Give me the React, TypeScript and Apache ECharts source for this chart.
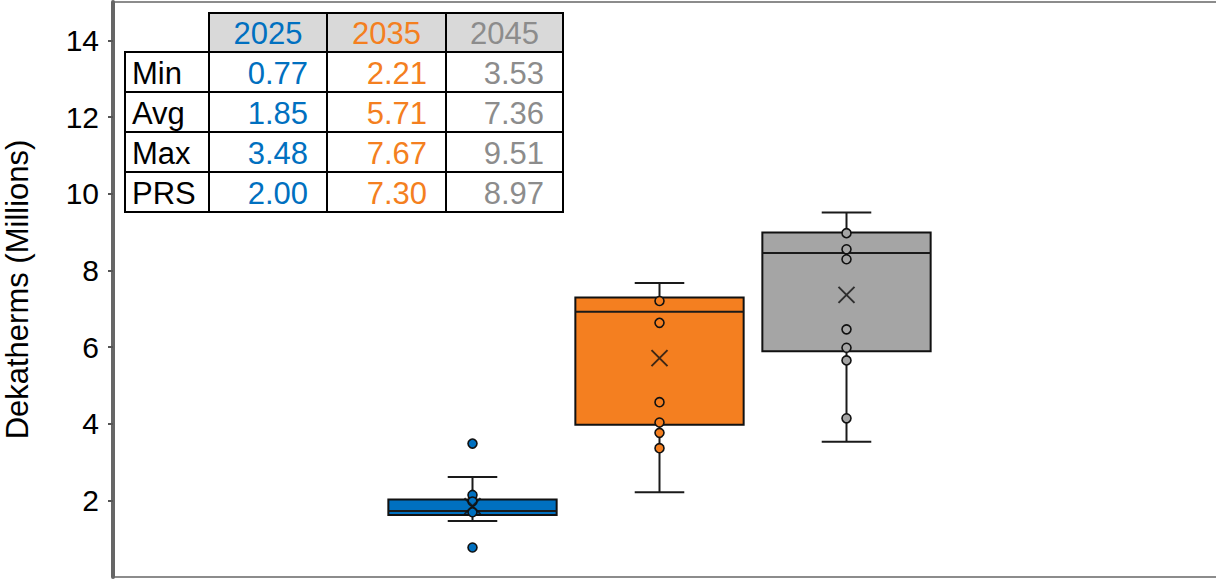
import React, { useEffect, useRef } from 'react';
import * as echarts from 'echarts';

// ---- data ----
const years = ['2025', '2035', '2045'];
const statLabels = ['Min', 'Avg', 'Max', 'PRS'];
const minValues = [0.77, 2.21, 3.53];
const avgValues = [1.85, 5.71, 7.36];
const maxValues = [3.48, 7.67, 9.51];
const prsValues = [2.0, 7.3, 8.97];

// box statistics (whisker low, Q1, median, Q3, whisker high)
const whiskerLow = [1.46, 2.21, 3.53];
const q1Values = [1.62, 3.97, 5.89];
const medianValues = [1.72, 6.92, 8.45];
const q3Values = [2.02, 7.29, 8.99];
const whiskerHigh = [2.61, 7.67, 9.51];

// individual points shown in each box
const points2025 = [3.48, 2.14, 1.97, 1.69, 0.77];
const points2035 = [7.2, 6.63, 4.56, 4.03, 3.76, 3.36];
const points2045 = [8.97, 8.55, 8.29, 6.46, 5.98, 5.65, 4.14];

const yMin = 0;
const yMax = 15;
const yInterval = 2;

// ---- styling ----
const boxColors = ['#0070C0', '#F47F20', '#A5A5A5'];
const textColors = ['#0070C0', '#F47F20', '#8C8C8C'];
const FONT = '"Liberation Sans", Arial, Helvetica, sans-serif';

function buildTable() {
  const colEdges = [209, 327, 446, 563];
  const labelLeft = 125;
  const headerTop = 13;
  const headerH = 39;
  const rowH = 40;
  const rows = [minValues, avgValues, maxValues, prsValues];
  const children: any[] = [];
  const cellStyle = (fill: string) => ({ fill, stroke: '#000', lineWidth: 2 });

  years.forEach((y, j) => {
    const x0 = colEdges[j];
    const x1 = colEdges[j + 1];
    children.push({
      type: 'rect',
      shape: { x: x0, y: headerTop, width: x1 - x0, height: headerH },
      style: cellStyle('#D9D9D9'),
    });
    children.push({
      type: 'text',
      style: {
        text: y,
        x: (x0 + x1) / 2,
        y: headerTop + headerH / 2 + 1,
        align: 'center',
        verticalAlign: 'middle',
        fill: textColors[j],
        fontSize: 31,
        fontFamily: FONT,
      },
    });
  });

  const bodyTop = headerTop + headerH;
  statLabels.forEach((label, r) => {
    const top = bodyTop + r * rowH;
    children.push({
      type: 'rect',
      shape: { x: labelLeft, y: top, width: colEdges[0] - labelLeft, height: rowH },
      style: cellStyle('#FFFFFF'),
    });
    children.push({
      type: 'text',
      style: {
        text: label,
        x: labelLeft + 7,
        y: top + rowH / 2 + 1,
        align: 'left',
        verticalAlign: 'middle',
        fill: '#000',
        fontSize: 31,
        fontFamily: FONT,
      },
    });
    years.forEach((_, j) => {
      const x0 = colEdges[j];
      const x1 = colEdges[j + 1];
      children.push({
        type: 'rect',
        shape: { x: x0, y: top, width: x1 - x0, height: rowH },
        style: cellStyle('#FFFFFF'),
      });
      children.push({
        type: 'text',
        style: {
          text: rows[r][j].toFixed(2),
          x: x1 - 19,
          y: top + rowH / 2 + 1,
          align: 'right',
          verticalAlign: 'middle',
          fill: textColors[j],
          fontSize: 31,
          fontFamily: FONT,
        },
      });
    });
  });
  return { type: 'group', z: 100, children };
}

export default function App() {
  const ref = useRef<HTMLDivElement>(null);

  useEffect(() => {
    if (!ref.current) return;
    const chart = echarts.init(ref.current, null, { renderer: 'svg' });

    const boxData = years.map((_, i) => [
      i,
      whiskerLow[i],
      q1Values[i],
      medianValues[i],
      q3Values[i],
      whiskerHigh[i],
    ]);

    const pointSets = [points2025, points2035, points2045];
    const pointData: any[] = [];
    pointSets.forEach((set, i) => {
      set.forEach((v) => {
        pointData.push({ value: [i, v], itemStyle: { color: boxColors[i] } });
      });
    });
    const meanData = avgValues.map((v, i) => [i, v]);

    const option: any = {
      animation: false,
      backgroundColor: '#FFFFFF',
      textStyle: { fontFamily: FONT },
      grid: [
        {
          left: 113,
          top: 2,
          right: -30,
          bottom: 5,
          outerBoundsMode: 'none',
          containLabel: false,
          show: true,
          borderColor: '#8C8C8C',
          borderWidth: 2,
          backgroundColor: 'transparent',
        },
        {
          left: 379,
          width: 561,
          top: 2,
          bottom: 5,
          outerBoundsMode: 'none',
          containLabel: false,
        },
      ],
      xAxis: [
        { type: 'category', gridIndex: 0, data: [''], show: false },
        { type: 'category', gridIndex: 1, data: years, show: false },
      ],
      yAxis: [
        {
          type: 'value',
          gridIndex: 0,
          min: yMin,
          max: yMax,
          interval: yInterval,
          name: 'Dekatherms (Millions)',
          nameLocation: 'middle',
          nameGap: 80,
          nameTextStyle: { fontSize: 31, color: '#000', fontFamily: FONT },
          axisLine: { show: true, lineStyle: { color: '#666666', width: 4 } },
          axisTick: { show: true, length: 5, lineStyle: { color: '#555555', width: 2 } },
          axisLabel: {
            fontSize: 30,
            color: '#000',
            margin: 14,
            fontFamily: FONT,
            showMinLabel: false,
            showMaxLabel: false,
          },
          splitLine: { show: false },
        },
        { type: 'value', gridIndex: 1, min: yMin, max: yMax, show: false, splitLine: { show: false } },
      ],
      series: [
        {
          type: 'custom',
          xAxisIndex: 1,
          yAxisIndex: 1,
          z: 2,
          data: boxData,
          renderItem: (params: any, api: any) => {
            const i = api.value(0);
            const lo = api.coord([i, api.value(1)]);
            const b1 = api.coord([i, api.value(2)]);
            const md = api.coord([i, api.value(3)]);
            const b3 = api.coord([i, api.value(4)]);
            const hi = api.coord([i, api.value(5)]);
            const band = api.size([1, 0])[0];
            const bw = band * 0.9;
            const cw = band * 0.265;
            const cx = lo[0];
            const line = { stroke: '#1a1a1a', lineWidth: 2 };
            return {
              type: 'group',
              children: [
                { type: 'line', shape: { x1: cx, y1: b3[1], x2: cx, y2: hi[1] }, style: line },
                { type: 'line', shape: { x1: cx, y1: b1[1], x2: cx, y2: lo[1] }, style: line },
                { type: 'line', shape: { x1: cx - cw / 2, y1: hi[1], x2: cx + cw / 2, y2: hi[1] }, style: line },
                { type: 'line', shape: { x1: cx - cw / 2, y1: lo[1], x2: cx + cw / 2, y2: lo[1] }, style: line },
                {
                  type: 'rect',
                  shape: { x: cx - bw / 2, y: b3[1], width: bw, height: b1[1] - b3[1] },
                  style: { fill: boxColors[i], stroke: '#111', lineWidth: 2 },
                },
                { type: 'line', shape: { x1: cx - bw / 2, y1: md[1], x2: cx + bw / 2, y2: md[1] }, style: line },
              ],
            };
          },
        },
        {
          type: 'scatter',
          xAxisIndex: 1,
          yAxisIndex: 1,
          z: 3,
          symbol: 'circle',
          symbolSize: 9,
          itemStyle: { borderColor: '#111', borderWidth: 1.6, opacity: 1 },
          data: pointData,
        },
        {
          type: 'scatter',
          xAxisIndex: 1,
          yAxisIndex: 1,
          z: 4,
          symbol: 'path://M0,0L16,16M16,0L0,16',
          symbolSize: 16,
          itemStyle: { color: 'rgba(0,0,0,0)', borderColor: '#111', borderWidth: 2 },
          data: meanData,
        },
      ],
      graphic: [buildTable()],
    };

    chart.setOption(option);
    return () => chart.dispose();
  }, []);

  return (
    <div
      ref={ref}
      style={{ position: 'fixed', left: 0, top: 0, width: 1216, height: 582, background: '#fff' }}
    />
  );
}
